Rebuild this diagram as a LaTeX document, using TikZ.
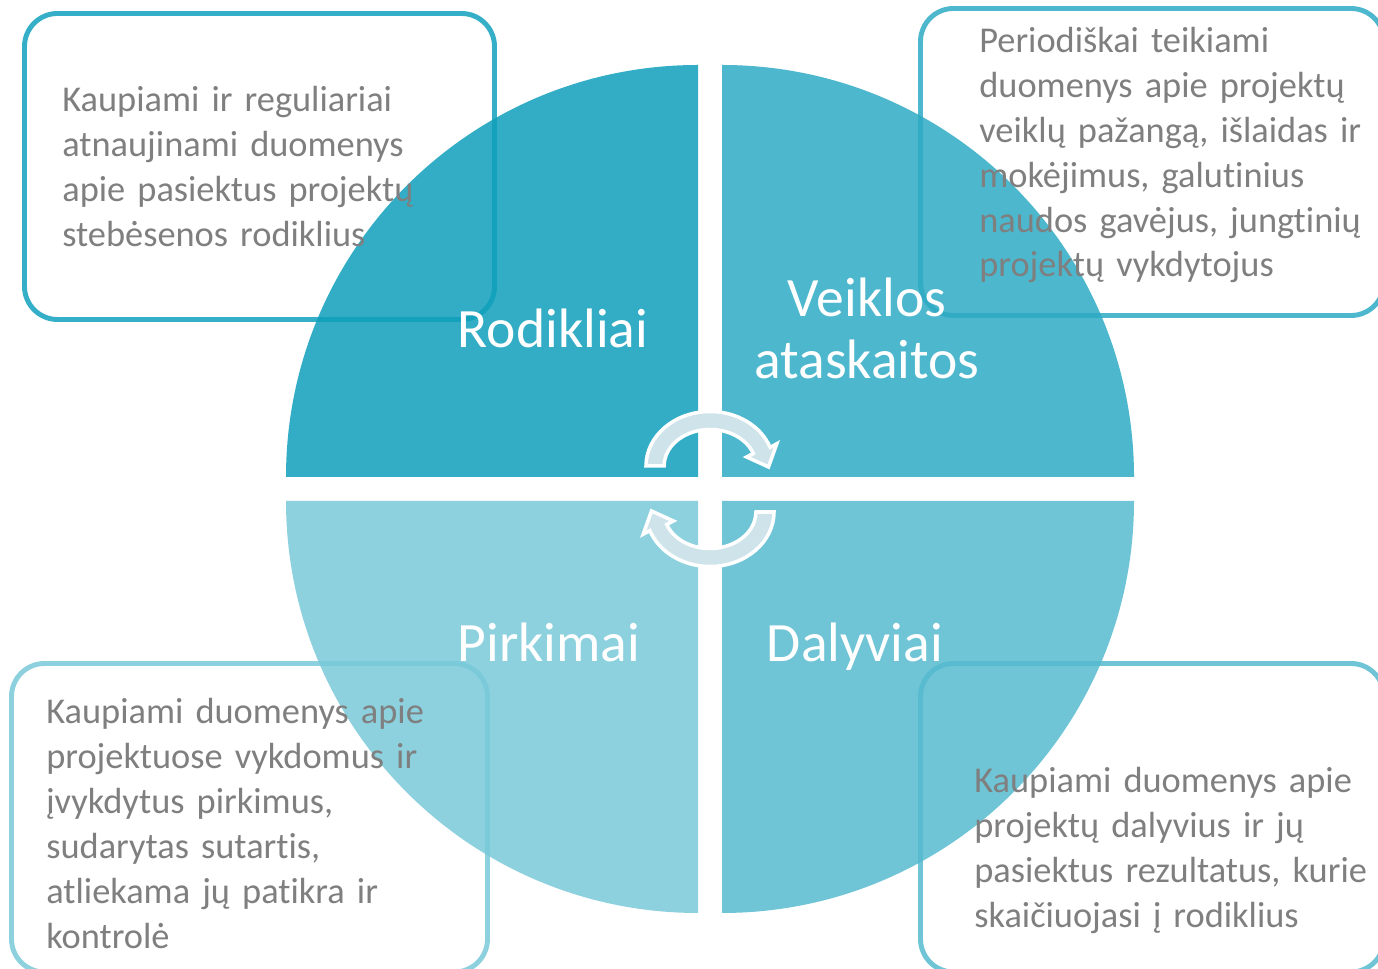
\documentclass[tikz,border=0pt]{standalone}
\usepackage{fontspec}
\setmainfont{Carlito}[Ligatures=NoCommon]
\usepackage{tikz}
\usetikzlibrary{calc}
\definecolor{QuadOne}{HTML}{0F9FBB}
\definecolor{QuadTwo}{HTML}{2EAAC4}
\definecolor{QuadThree}{HTML}{56BACF}
\definecolor{QuadFour}{HTML}{79C9D9}
\definecolor{EdgeOne}{HTML}{35AEC7}
\definecolor{EdgeTwo}{HTML}{4DB7CD}
\definecolor{EdgeThree}{HTML}{6FC4D6}
\definecolor{EdgeFour}{HTML}{8DD1DF}
\definecolor{InfoGray}{HTML}{7F7F7F}
\definecolor{ArrowFill}{HTML}{CFE3EA}
\tikzset{
  infobox/.style={line width=2.8pt, rounded corners=0.66cm},
  quad/.style={fill opacity=0.85},
  infotext/.style={anchor=base west, inner sep=0pt, text width=9cm, align=left, text=InfoGray, font=\fontsize{20.7}{25.5}\selectfont},
  quadlabel/.style={anchor=base, inner sep=0pt, text width=6cm, align=center, text=white, font=\fontsize{31.6}{35.1}\selectfont},
  cyclearrow/.style={fill=ArrowFill, draw=white, line width=2pt, line join=miter}
}

\begin{document}
\begin{tikzpicture}[x=0.02cm, y=0.02cm]
  \useasboundingbox (0,0) rectangle (1378,969);
  % outlined boxes behind the circle
  \draw[infobox, EdgeOne] (24.5,649.5) rectangle (494.5,955.5);
  \draw[infobox, EdgeTwo] (920.5,653.5) rectangle (1384,960.5);
  \draw[infobox, EdgeFour] (11.5,-3) rectangle (487.5,305.5);
  \draw[infobox, EdgeThree] (920.5,-3) rectangle (1384,305.5);
  % four quarters
  \fill[QuadOne, quad] (698,492) -- (286,492) arc[start angle=180, end angle=90, radius=412] -- cycle;
  \fill[QuadTwo, quad] (722,492) -- (722,904) arc[start angle=90, end angle=0, radius=412] -- cycle;
  \fill[QuadThree, quad] (722,468) -- (1134,468) arc[start angle=0, end angle=-90, radius=412] -- cycle;
  \fill[QuadFour, quad] (698,468) -- (698,56) arc[start angle=270, end angle=180, radius=412] -- cycle;
  % box texts
  \node[infotext] (rodtext) at (62,857) {Kaupiami ir reguliariai\\ atnaujinami duomenys\\ apie pasiektus projektų\\ stebėsenos rodiklius};
  \node[infotext] (veiktext) at (979,916) {Periodiškai teikiami\\ duomenys apie projektų\\ veiklų pažangą, išlaidas ir\\ mokėjimus, galutinius\\ naudos gavėjus, jungtinių\\ projektų vykdytojus};
  \node[infotext] (pirktext) at (46,245) {Kaupiami duomenys apie\\ projektuose vykdomus ir\\ įvykdytus pirkimus,\\ sudarytas sutartis,\\ atliekama jų patikra ir\\ kontrolė};
  \node[infotext] (dalytext) at (974,176) {Kaupiami duomenys apie\\ projektų dalyvius ir jų\\ pasiektus rezultatus, kurie\\ skaičiuojasi į rodiklius};
  % quarter labels
  \node[quadlabel] (rodlabel) at (553,621) {Rodikliai};
  \node[quadlabel] (veiklabel) at (867,652) {Veiklos\\ ataskaitos};
  \node[quadlabel] (pirklabel) at (549,307) {Pirkimai};
  \node[quadlabel] (dalylabel) at (855,307) {Dalyviai};
  % cycle arrows
  \foreach \ang in {0,180} {
    \filldraw[cyclearrow, rotate around={\ang:(710,480)}] (646,503) arc[start angle=180, end angle=20, x radius=64, y radius=54.5] -- (776.8,525.2) -- (768.5,502) -- (746.6,512) -- (753.3,515.5) arc[start angle=20, end angle=180, x radius=46, y radius=36.5] -- cycle;
  }
\end{tikzpicture}
\end{document}
